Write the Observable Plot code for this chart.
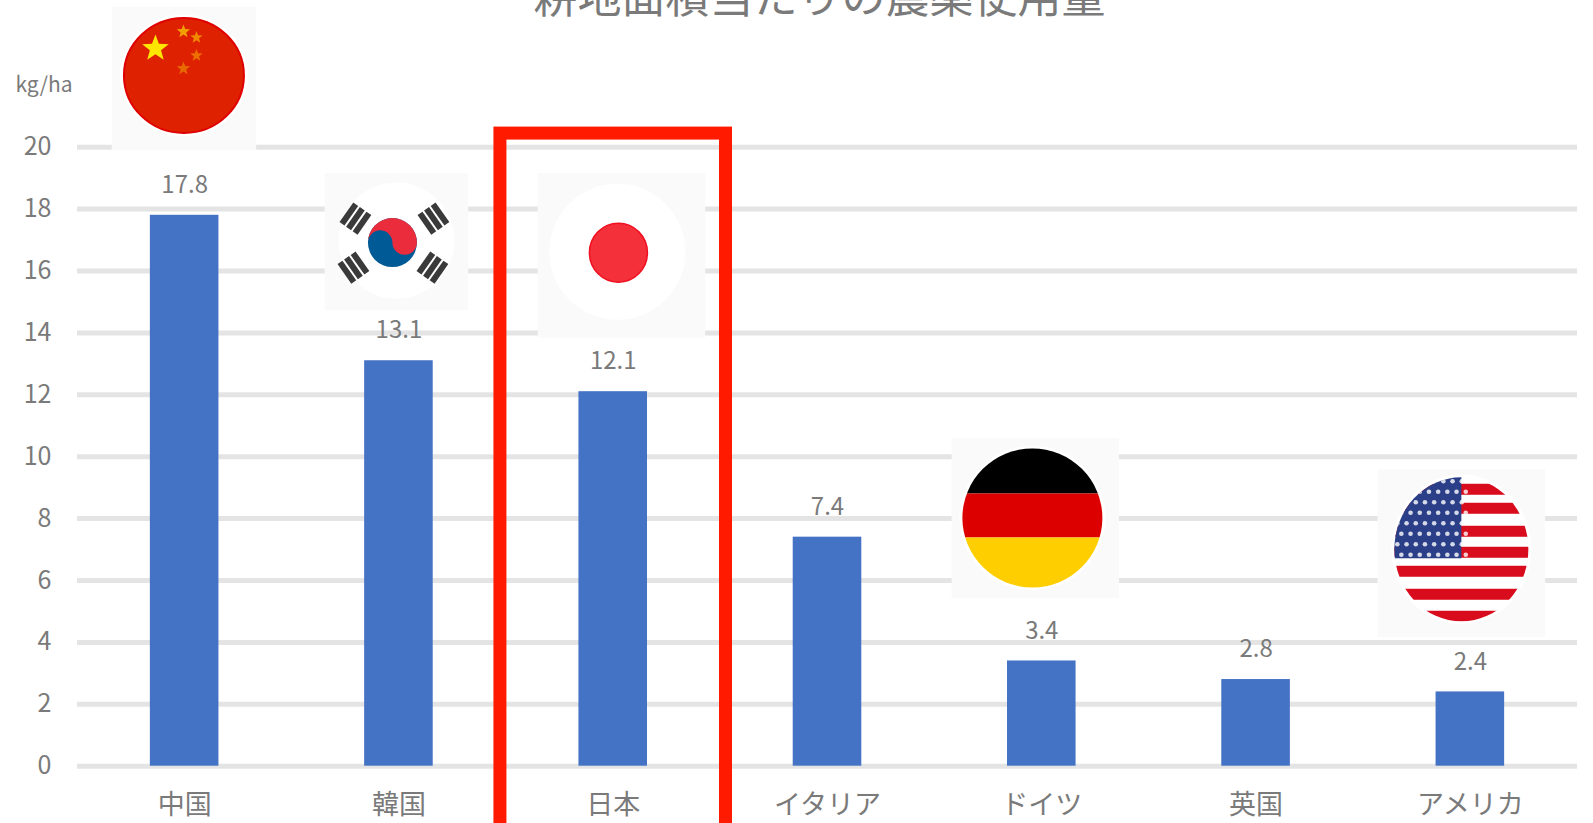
<!DOCTYPE html>
<html lang="ja">
<head>
<meta charset="utf-8">
<title>耕地面積当たりの農薬使用量</title>
<script src="https://cdn.jsdelivr.net/npm/d3@7"></script>
<script src="https://cdn.jsdelivr.net/npm/@observablehq/plot@0.6"></script>
<style>
  html, body { margin: 0; padding: 0; background: #fff; overflow: hidden; }
  svg { display: block; }
</style>
</head>
<body>
<div id="chart"></div>
<script>
// ---- data ----
const chartTitle = "耕地面積当たりの農薬使用量";
const unitLabel = "kg/ha";
const countries = ["中国", "韓国", "日本", "イタリア", "ドイツ", "英国", "アメリカ"];
const pesticideUse = [17.8, 13.1, 12.1, 7.4, 3.4, 2.8, 2.4];
const yTicks = [0, 2, 4, 6, 8, 10, 12, 14, 16, 18, 20];
const highlighted = ["日本"];

// ---- flag pictures (small inline SVGs) ----
const svgUri = (w, h, body) => "data:image/svg+xml," + encodeURIComponent(
  `<svg xmlns="http://www.w3.org/2000/svg" viewBox="0 0 ${w} ${h}" width="${w}" height="${h}" preserveAspectRatio="none">${body}</svg>`);
const star = (cx, cy, r, fill) => {
  const p = d3.range(10).map(i => {
    const a = -Math.PI / 2 + i * Math.PI / 5, q = i % 2 ? r * 0.42 : r;
    return `${cx + q * Math.cos(a)},${cy + q * Math.sin(a)}`;
  }).join(" ");
  return `<polygon points="${p}" fill="${fill}"/>`;
};
const bg = (w, h) => `<rect width="${w}" height="${h}" fill="#fafafa"/>`;

const chinaFlag = svgUri(145, 144, bg(145, 144) +
  `<ellipse cx="72.5" cy="69" rx="64" ry="61" fill="#fff"/>
   <ellipse cx="72.5" cy="69" rx="60" ry="57.5" fill="#de2100" stroke="#e00000" stroke-width="2"/>` +
  star(44, 42, 14, "#ffe600") + star(72, 25, 7, "#f0a000") + star(85, 31, 6.5, "#f08800") +
  star(85, 49, 6.5, "#ec7000") + star(72, 62, 7, "#e66a00"));

const koreaBar = (x, y, rot) => `<g transform="translate(${x} ${y}) rotate(${rot})" fill="#3a3a3a">
  <rect x="-12" y="-11" width="24" height="6"/><rect x="-12" y="-3" width="24" height="6"/><rect x="-12" y="5" width="24" height="6"/></g>`;
const koreaFlag = svgUri(144, 138, bg(144, 138) +
  `<ellipse cx="72" cy="68" rx="58" ry="58" fill="#fff"/>` +
  koreaBar(31, 46, -55) + koreaBar(109, 46, 55) + koreaBar(29, 95, 55) + koreaBar(108, 95, -55) +
  `<circle cx="68" cy="70" r="24.5" fill="#005a96"/>
   <path d="M43.5 70 A24.5 24.5 0 0 1 92.5 70 A12.25 12.25 0 0 1 68 70 A12.25 12.25 0 0 0 43.5 70Z" fill="#ea2c3c"/>`);

const japanFlag = svgUri(168, 165, bg(168, 165) +
  `<ellipse cx="80" cy="79" rx="68" ry="68" fill="#fff"/>
   <ellipse cx="81" cy="80" rx="29" ry="29.5" fill="#f4303a" stroke="#f01020" stroke-width="1.5"/>`);

const germanyFlag = svgUri(168, 161, bg(168, 161) +
  `<clipPath id="c"><ellipse cx="81" cy="80.5" rx="70" ry="69.5"/></clipPath>
   <ellipse cx="81" cy="80.5" rx="73" ry="72" fill="#fff"/>
   <g clip-path="url(#c)">
     <rect x="0" y="0" width="168" height="56" fill="#000"/>
     <rect x="0" y="56" width="168" height="44" fill="#dd0000"/>
     <rect x="0" y="100" width="168" height="61" fill="#ffce00"/>
   </g>`);

const usStripeRows = [20, 39, 62, 83, 102, 125, 147];
const usFlag = svgUri(168, 168, bg(168, 168) +
  `<clipPath id="c"><ellipse cx="84" cy="80" rx="67" ry="72"/></clipPath>
   <ellipse cx="84" cy="80" rx="70" ry="75" fill="#fff"/>
   <g clip-path="url(#c)">` +
  usStripeRows.map(y => `<rect x="0" y="${y - 5.5}" width="168" height="11" fill="#d80c1c"/>`).join("") +
  `<rect x="0" y="0" width="84" height="89" fill="#2a3f88"/>` +
  d3.range(8).flatMap(r => d3.range(8).map(c =>
    `<circle cx="${20 + c * 9.2 + (r % 2) * 4}" cy="${12 + r * 10.5}" r="2.3" fill="#fff" opacity=".8"/>`)).join("") +
  `</g>`);

const flags = [
  {country: "中国",    src: chinaFlag,   level: 22.22, w: 145, h: 144, shift: -0.7},
  {country: "韓国",    src: koreaFlag,   level: 16.95, w: 144, h: 138, shift: -2.5},
  {country: "日本",    src: japanFlag,   level: 16.51, w: 168, h: 165, shift: 8.2},
  {country: "ドイツ",  src: germanyFlag, level: 8.02,  w: 168, h: 161, shift: -6.4},
  {country: "アメリカ", src: usFlag,      level: 6.88,  w: 168, h: 168, shift: -9}
];

// ---- chart ----
const rows = countries.map((country, i) => ({country, value: pesticideUse[i]}));
const grey = "#7a7a7a";

const plot = Plot.plot({
  width: 1593,
  height: 823,
  marginLeft: 77,
  marginRight: 16,
  marginTop: 146.7,
  marginBottom: 57.3,
  style: {background: "#fff", fontFamily: "'Noto Sans CJK JP', 'Noto Sans', sans-serif"},
  x: {domain: countries, paddingInner: 0.68, paddingOuter: 0.34, round: false, label: null},
  y: {domain: [0, 20], label: null},
  marks: [
    Plot.ruleY(yTicks, {stroke: "#e4e4e4", strokeWidth: 5}),
    Plot.barY(rows, {x: "country", y: "value", fill: "#4472c4"}),
    ...flags.map(f => Plot.image([f], {
      x: "country", y: "level", src: "src", width: f.w, height: f.h, dx: f.shift,
      preserveAspectRatio: "none"
    })),
    Plot.text(rows, {x: "country", y: "value", text: d => d.value.toFixed(1), dy: -30, fontSize: 24, fill: grey}),
    Plot.barY(highlighted, {
      x: d => d, y1: -3, y2: 20.44, fill: "none", stroke: "#ff1a00", strokeWidth: 13,
      insetLeft: -78.5, insetRight: -78.5
    }),
    Plot.axisY(yTicks, {tickSize: 0, tickPadding: 26, fontSize: 25, fill: grey, label: null}),
    Plot.axisX({tickSize: 0, tickPadding: 29, fontSize: 27, fill: grey, label: null}),
    Plot.text([unitLabel], {frameAnchor: "top-left", dx: -62, dy: -62, fontSize: 21, textAnchor: "start", lineAnchor: "middle", fill: grey}),
    Plot.text([chartTitle], {frameAnchor: "top", dx: -8, dy: -134, fontSize: 44, lineAnchor: "bottom", fill: grey})
  ]
});
document.getElementById("chart").append(plot);
</script>
</body>
</html>
